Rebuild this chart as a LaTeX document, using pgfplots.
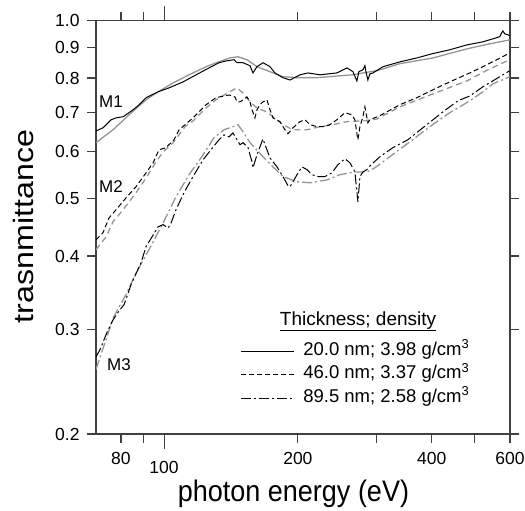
\documentclass[border=0pt]{standalone}
\usepackage{fontspec}
\setmainfont{Liberation Sans}
\usepackage{graphicx}
\usepackage{pgfplots}
\pgfplotsset{compat=1.18}
\definecolor{fitgray}{gray}{0.58}
\begin{document}
\begin{tikzpicture}
\begin{axis}[
  at={(0,0)}, anchor=south west,
  scale only axis, width=414pt, height=413.3pt,
  xmode=log, ymode=log,
  xmin=70.3, xmax=600, ymin=0.2, ymax=1.0,
  axis line style={line width=1.2pt, black!75},
  every tick/.style={line width=1.1pt, black!75},
  tick align=outside,
  major tick length=9pt, minor tick length=9pt,
  xtick={80,200,400,600}, xticklabels={80,200,400,600},
  minor xtick={90,300,500},
  extra x ticks={100}, extra x tick labels={100},
  extra x tick style={major tick length=15pt, xticklabel style={yshift=-2.5pt}},
  ytick={0.2,0.3,0.4,0.5,0.6,0.7,0.8,0.9,1.0},
  yticklabels={0.2,0.3,0.4,0.5,0.6,0.7,0.8,0.9,1.0},
  minor ytick={},
  tick label style={font=\fontsize{17.5}{20}\selectfont},
  xticklabel style={yshift=-6pt},
  yticklabel style={xshift=-4pt},
  xlabel={\scalebox{1}[1.1]{photon energy (eV)}},
  ylabel={\scalebox{1.15}[1]{trasnmittance}},
  xlabel style={font=\fontsize{27}{30}\selectfont, at={(axis description cs:0.477,0)}, anchor=base, yshift=-67.5pt},
  ylabel style={font=\fontsize{28}{30}\selectfont, at={(axis description cs:-0.1763,0.502)}, anchor=center},
  legend style={draw=none, fill=none, at={(axis description cs:0.348,0.2255)}, anchor=north west,
    font=\fontsize{18.5}{20}\selectfont, inner sep=0pt, row sep=3.5pt,
    nodes={text height=12pt, text depth=4pt, inner sep=2pt},
    /tikz/every odd column/.style={column sep=7pt}},
  legend cell align=left,
  legend image code/.code={\draw[#1] (0pt,0pt) -- (53pt,0pt);},
  clip=true,
]
% ---- fits (gray) ----
\addplot[fitgray, line width=1.3pt, forget plot] coordinates {
(70.3,0.622) (76.8,0.654) (83.4,0.693) (91.1,0.735) (96.9,0.758) (104.8,0.785)
(113.8,0.810) (124.3,0.836) (134.3,0.855) (140.7,0.865) (146.7,0.869) (153.7,0.859)
(161.8,0.836) (173.1,0.820) (185.1,0.804) (199.1,0.801) (220.8,0.801) (248.7,0.807)
(266.0,0.810) (280.1,0.816) (301.2,0.823) (339.2,0.846) (402.3,0.865) (479.7,0.896)
(540.3,0.914) (599.2,0.928)};
\addplot[fitgray, line width=1.3pt, dash pattern=on 6pt off 4pt, forget plot] coordinates {
(70.3,0.410) (74.1,0.431) (76.8,0.457) (80.9,0.479) (86.5,0.512) (91.1,0.542)
(95.9,0.577) (99.5,0.600) (104.8,0.622) (111.5,0.662) (116.2,0.677) (124.3,0.712)
(130.9,0.735) (137.8,0.752) (145.9,0.770) (150.5,0.755) (156.1,0.729) (161.8,0.712)
(170.4,0.701) (175.8,0.688) (185.1,0.667) (195.0,0.654) (209.6,0.654) (224.2,0.662)
(239.8,0.667) (257.9,0.675) (280.1,0.677) (301.2,0.682) (339.2,0.715) (402.3,0.752)
(479.7,0.791) (540.3,0.829) (599.2,0.859)};
\addplot[fitgray, line width=1.3pt, dash pattern=on 10pt off 3pt on 2pt off 3pt, forget plot] coordinates {
(70.3,0.257) (71.8,0.270) (74.4,0.292) (76.8,0.314) (79.6,0.330) (82.6,0.347)
(86.5,0.375) (88.3,0.385) (92.5,0.410) (99.5,0.455) (106.4,0.504) (113.8,0.549)
(122.4,0.593) (129.5,0.634) (136.4,0.654) (142.9,0.662) (146.7,0.667) (150.5,0.649)
(156.1,0.622) (166.9,0.589) (175.8,0.566) (185.1,0.545) (199.1,0.534) (212.9,0.532)
(232.5,0.538) (248.7,0.549) (268.7,0.555) (286.0,0.555) (298.1,0.564) (322.1,0.589)
(357.2,0.624) (396.1,0.662) (439.3,0.699) (462.6,0.715) (487.2,0.732) (521.1,0.758)
(548.8,0.782) (599.2,0.804)};
% ---- measurements (black) ----
\addplot[black, line width=1pt] coordinates {
(70.3,0.651) (72.9,0.659) (76.0,0.680) (78.0,0.685) (80.9,0.688) (85.2,0.707)
(87.9,0.721) (91.1,0.741) (96.9,0.758) (102.6,0.770) (110.3,0.788) (118.0,0.810)
(126.2,0.832) (132.9,0.849) (137.8,0.855) (143.7,0.859) (145.9,0.849) (150.5,0.849)
(154.5,0.842) (156.1,0.839) (158.5,0.816) (161.8,0.836) (166.9,0.849) (170.4,0.842)
(173.1,0.836) (177.6,0.816) (185.1,0.801) (192.0,0.794) (202.2,0.810) (210.7,0.816)
(224.2,0.810) (244.8,0.816) (257.9,0.832) (266.0,0.820) (271.5,0.791) (274.3,0.820)
(280.1,0.826) (283.0,0.839) (284.5,0.820) (287.4,0.794) (290.4,0.813) (295.0,0.816)
(310.7,0.836) (339.2,0.852) (370.4,0.865) (400.2,0.879) (439.3,0.893) (479.7,0.910)
(521.1,0.921) (560.2,0.936) (569.0,0.940) (574.9,0.954) (577.9,0.961) (583.9,0.950)
(593.1,0.947) (599.2,0.943)};
\addlegendentry{20.0 nm; 3.98 g/cm\textsuperscript{3}}
\addplot[black, line width=1pt, dash pattern=on 5pt off 3pt] coordinates {
(70.3,0.426) (72.9,0.438) (75.2,0.464) (78.0,0.479) (82.2,0.502) (86.5,0.524)
(91.1,0.553) (94.5,0.575) (97.4,0.605) (101.0,0.610) (105.3,0.629) (108.1,0.654)
(116.2,0.685) (124.3,0.721) (130.9,0.741) (140.0,0.749) (144.4,0.743) (145.9,0.729)
(148.2,0.729) (150.5,0.735) (153.7,0.743) (156.1,0.729) (157.7,0.707) (160.1,0.685)
(161.8,0.707) (164.3,0.721) (166.9,0.729) (170.4,0.735) (173.1,0.707) (175.8,0.685)
(182.3,0.675) (187.1,0.654) (190.0,0.644) (195.0,0.659) (202.2,0.675) (207.5,0.680)
(212.9,0.667) (220.8,0.662) (227.7,0.662) (236.1,0.667) (244.8,0.680) (255.2,0.699)
(264.6,0.693) (268.7,0.680) (271.5,0.644) (272.9,0.629) (275.8,0.662) (280.1,0.688)
(283.0,0.715) (287.4,0.672) (290.4,0.680) (305.9,0.691) (339.2,0.721) (370.4,0.741)
(410.7,0.770) (455.5,0.798) (487.2,0.816) (521.1,0.836) (560.2,0.859) (599.2,0.882)};
\addlegendentry{46.0 nm; 3.37 g/cm\textsuperscript{3}}
\addplot[black, line width=1pt, dash pattern=on 10pt off 3pt on 2pt off 3pt] coordinates {
(70.3,0.270) (71.8,0.278) (74.4,0.297) (76.8,0.312) (79.2,0.323) (81.3,0.331)
(84.3,0.358) (88.8,0.390) (91.1,0.415) (94.5,0.434) (96.9,0.448) (99.5,0.452)
(102.1,0.446) (103.7,0.455) (106.4,0.479) (110.9,0.512) (116.2,0.545) (122.4,0.582)
(127.5,0.605) (132.9,0.629) (136.4,0.641) (140.0,0.636) (142.9,0.646) (145.9,0.629)
(148.2,0.617) (150.5,0.622) (154.5,0.610) (157.7,0.577) (158.5,0.564) (161.8,0.593)
(166.9,0.631) (170.4,0.605) (173.1,0.586) (179.5,0.566) (185.1,0.545) (190.0,0.526)
(192.0,0.524) (195.0,0.534) (199.1,0.549) (204.3,0.566) (209.6,0.560) (215.1,0.549)
(221.9,0.545) (230.1,0.545) (238.6,0.553) (246.1,0.571) (255.2,0.584) (261.9,0.575)
(268.7,0.555) (271.5,0.514) (272.9,0.494) (275.8,0.545) (280.1,0.555) (286.0,0.560)
(290.4,0.568) (305.9,0.589) (327.2,0.610) (353.5,0.629) (382.0,0.659) (423.7,0.701)
(457.8,0.732) (487.2,0.746) (521.1,0.773) (548.8,0.791) (577.9,0.810) (599.2,0.823)};
\addlegendentry{89.5 nm; 2.58 g/cm\textsuperscript{3}}
\node[anchor=base, font=\fontsize{19}{20}\selectfont] at (rel axis cs:0.633,0.2637) {\underline{Thickness; density}};
\node[anchor=west, inner sep=0pt, font=\fontsize{17}{20}\selectfont] at (rel axis cs:0.0072,0.803) {M1};
\node[anchor=west, inner sep=0pt, font=\fontsize{17}{20}\selectfont] at (rel axis cs:0.0072,0.598) {M2};
\node[anchor=west, inner sep=0pt, font=\fontsize{17}{20}\selectfont] at (rel axis cs:0.0266,0.167) {M3};
\end{axis}
\pgfresetboundingbox
\useasboundingbox (-96pt,-77pt) rectangle (429pt,434pt);
\end{tikzpicture}
\end{document}
